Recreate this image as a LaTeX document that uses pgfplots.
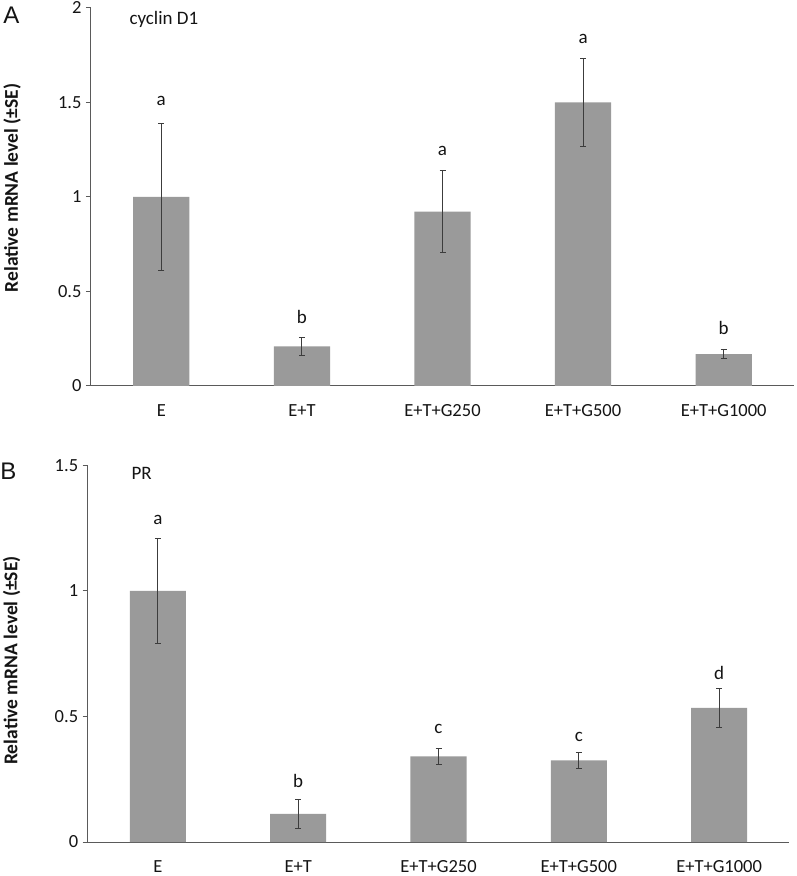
\documentclass[border=0pt]{standalone}
\usepackage{fontspec}
\setmainfont{Carlito}
\newfontfamily\arialfont{Liberation Sans}
\usepackage{pgfplots}
\pgfplotsset{compat=1.18}
\definecolor{barg}{RGB}{154,154,154}
\definecolor{axg}{RGB}{90,90,90}
\definecolor{errg}{RGB}{60,60,60}
\definecolor{txt}{RGB}{20,20,20}

\pgfplotsset{
  panel/.style={
    scale only axis,
    anchor=south west,
    xmin=-0.5, xmax=4.5,
    ymin=0,
    axis x line*=bottom,
    axis y line*=left,
    axis line style={axg, line width=1pt},
    tick align=outside,
    tick style={axg, line width=1pt},
    major tick length=5pt,
    xtick={0,1,2,3,4},
    xticklabels={E, E+T, E+T+G250, E+T+G500, E+T+G1000},
    x tick style={draw=none},
    xticklabel style={inner sep=0pt, text depth=0pt, yshift=-13pt},
    extra x ticks={-0.5,0.5,1.5,2.5,3.5,4.5},
    extra x tick labels={},
    extra x tick style={tick style={draw=axg, line width=1pt}, major tick length=6pt},
    yticklabel style={xshift=-1pt},
    ticklabel style={font=\fontsize{18.5}{20}\selectfont, text=txt},
    /pgf/number format/assume math mode=true,
    ybar, bar width=0.4,
    clip=false,
  },
  barplot/.style={
    fill=barg, draw=none,
    error bars/.cd, y dir=both, y explicit,
    error bar style={errg, line width=0.9pt},
    error mark options={rotate=90, mark size=3pt, errg, line width=0.9pt},
  },
}

\begin{document}
\begin{tikzpicture}
\path[use as bounding box] (0pt,0pt) rectangle (797pt,876pt);

% panel A: cyclin D1
\begin{axis}[panel, at={(91pt,490pt)}, width=703pt, height=378pt,
  ymax=2, ytick={0,0.5,1,1.5,2}, yticklabels={0,0.5,1,1.5,2}]
\addplot[barplot] coordinates {
  (0,1.000) +- (0,0.390)
  (1,0.210) +- (0,0.048)
  (2,0.922) +- (0,0.217)
  (3,1.500) +- (0,0.232)
  (4,0.168) +- (0,0.024)
};
\begin{scope}[every node/.style={font=\fontsize{19}{20}\selectfont, text=txt}]
\node at (axis cs:0,1.51) {a};
\node at (axis cs:1,0.367) {b};
\node at (axis cs:2,1.243) {a};
\node at (axis cs:3,1.836) {a};
\node at (axis cs:4,0.308) {b};
\end{scope}
\end{axis}

% panel B: PR
\begin{axis}[panel, at={(87.7pt,34pt)}, width=701.6pt, height=376.5pt,
  ymax=1.5, ytick={0,0.5,1,1.5}, yticklabels={0,0.5,1,1.5}]
\addplot[barplot] coordinates {
  (0,1.000) +- (0,0.209)
  (1,0.112) +- (0,0.057)
  (2,0.341) +- (0,0.033)
  (3,0.325) +- (0,0.030)
  (4,0.534) +- (0,0.077)
};
\begin{scope}[every node/.style={font=\fontsize{19}{20}\selectfont, text=txt}]
\node at (axis cs:0,1.282) {a};
\node at (axis cs:1,0.243) {b};
\node at (axis cs:2,0.449) {c};
\node at (axis cs:3,0.419) {c};
\node at (axis cs:4,0.674) {d};
\end{scope}
\end{axis}

% panel letters, gene names, y labels
\node[font=\arialfont\fontsize{24}{26}\selectfont, text=txt] at (11.5pt,860.5pt) {A};
\node[font=\arialfont\fontsize{24}{26}\selectfont, text=txt] at (8.5pt,405pt) {B};
\node[anchor=west, font=\fontsize{19}{20}\selectfont, text=txt] at (126pt,857pt) {cyclin D1};
\node[anchor=west, font=\fontsize{19}{20}\selectfont, text=txt] at (128pt,403pt) {PR};
\node[rotate=90, font=\bfseries\fontsize{19.5}{20}\selectfont, text=txt] at (12pt,688pt) {Relative mRNA level (±SE)};
\node[rotate=90, font=\bfseries\fontsize{19.5}{20}\selectfont, text=txt] at (11.5pt,215.5pt) {Relative mRNA level (±SE)};
\end{tikzpicture}
\end{document}
